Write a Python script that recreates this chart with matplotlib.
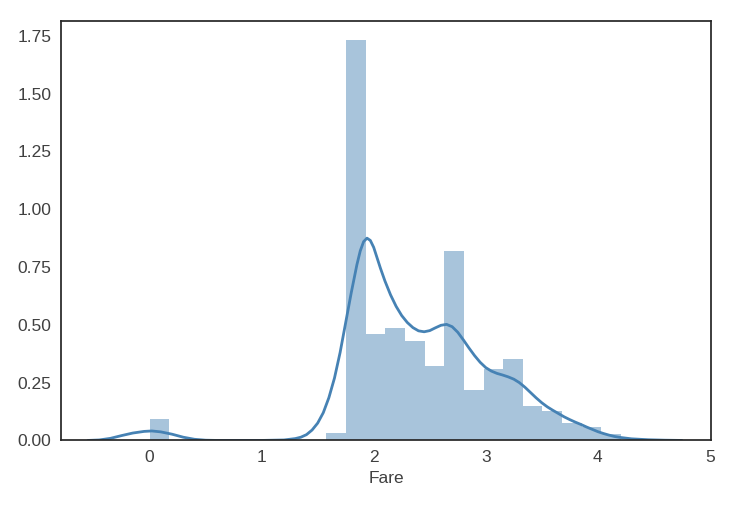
import numpy as np
import matplotlib
matplotlib.use("Agg")
import matplotlib.pyplot as plt
import seaborn as sns

# histogram of log fare, 24 bins from 0 to ~4.21 (density)
bin_width = 0.1753
bar_heights = [0.093, 0, 0, 0, 0, 0, 0, 0, 0, 0.031, 1.73, 0.462,
               0.486, 0.430, 0.320, 0.818, 0.220, 0.308, 0.351, 0.150,
               0.128, 0.076, 0.056, 0.028]

# kde curve
kde_x = [-0.55, -0.45, -0.35, -0.25, -0.15, -0.05, 0.02, 0.10, 0.20, 0.30,
         0.40, 0.50, 0.60, 1.0, 1.2, 1.3, 1.35, 1.4, 1.45, 1.5, 1.55, 1.6,
         1.65, 1.7, 1.75, 1.8, 1.85, 1.88, 1.91, 1.94, 1.97, 2.0, 2.03, 2.06,
         2.1, 2.15, 2.2, 2.25, 2.3, 2.35, 2.4, 2.45, 2.5, 2.55, 2.6, 2.65,
         2.7, 2.75, 2.8, 2.85, 2.9, 2.95, 3.0, 3.05, 3.1, 3.15, 3.2, 3.25,
         3.3, 3.35, 3.4, 3.45, 3.5, 3.55, 3.6, 3.65, 3.7, 3.75, 3.8, 3.85,
         3.9, 3.95, 4.0, 4.05, 4.1, 4.15, 4.2, 4.3, 4.45, 4.6, 4.75]
kde_y = [0.0, 0.002, 0.009, 0.021, 0.032, 0.039, 0.041, 0.037, 0.027, 0.014,
         0.005, 0.001, 0.0, 0.0, 0.002, 0.008, 0.014, 0.025, 0.045, 0.075,
         0.12, 0.185, 0.27, 0.38, 0.51, 0.64, 0.76, 0.82, 0.86, 0.875, 0.865,
         0.835, 0.79, 0.745, 0.69, 0.63, 0.58, 0.54, 0.51, 0.488, 0.474,
         0.470, 0.475, 0.487, 0.498, 0.502, 0.492, 0.468, 0.435, 0.40, 0.367,
         0.338, 0.315, 0.300, 0.290, 0.283, 0.275, 0.265, 0.25, 0.23, 0.207,
         0.184, 0.163, 0.145, 0.13, 0.116, 0.102, 0.09, 0.079, 0.069, 0.058,
         0.048, 0.038, 0.03, 0.023, 0.017, 0.013, 0.007, 0.003, 0.001, 0.0]

sns.set_style("white")
plt.rcParams['font.family'] = ['Liberation Sans', 'DejaVu Sans']

fig = plt.figure(figsize=(7.36, 5.08), dpi=100)
ax = fig.add_axes([0.083, 0.133, 0.883, 0.826])

edges = np.arange(len(bar_heights)) * bin_width
ax.bar(edges, bar_heights, width=bin_width, align='edge',
       color='steelblue', alpha=0.47, linewidth=0)
ax.plot(kde_x, kde_y, color='steelblue', linewidth=2)

ax.set_xlim(-0.79, 5.01)
ax.set_ylim(0, 1.815)
ax.set_yticks([0, 0.25, 0.5, 0.75, 1.0, 1.25, 1.5, 1.75])
ax.set_xticks([0, 1, 2, 3, 4, 5])
ax.set_xlabel('Fare', fontsize=12.5, color='.25')
ax.tick_params(labelsize=12.5, colors='.25')
for s in ax.spines.values():
    s.set_color('.15')
    s.set_linewidth(1.25)

fig.savefig('out.png', dpi=100)
